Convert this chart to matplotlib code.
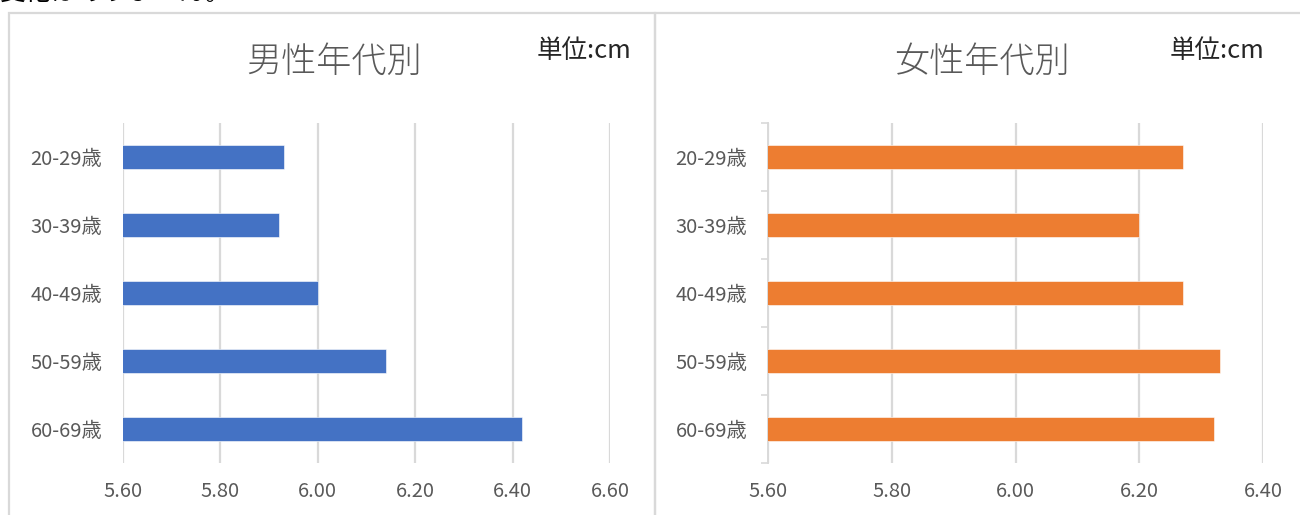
import matplotlib
matplotlib.use("Agg")
import matplotlib.pyplot as plt
from matplotlib.patches import Rectangle

plt.rcParams['font.family'] = ['Noto Sans CJK JP', 'DejaVu Sans']

ages = ['20-29歳', '30-39歳', '40-49歳', '50-59歳', '60-69歳']
male = [5.93, 5.92, 6.00, 6.14, 6.42]
female = [6.27, 6.20, 6.27, 6.33, 6.32]
male_ticks = [5.60, 5.80, 6.00, 6.20, 6.40, 6.60]
female_ticks = [5.60, 5.80, 6.00, 6.20, 6.40]

W, H = 1300, 515
fig = plt.figure(figsize=(13, 5.15), dpi=100)

grid_c = '#d9d9d9'
text_c = '#595959'

# panel borders (shared edge in the middle)
for x0, x1 in [(9, 655), (655, 1310)]:
    fig.add_artist(Rectangle((x0 / W, -0.1), (x1 - x0) / W, 1.1 - 13 / H,
                             transform=fig.transFigure, fill=False,
                             edgecolor=grid_c, linewidth=1.6, clip_on=False))

# sentence above the charts, cut off by the top edge
fig.text(0.0, 1 + 7 / H, '変化はありません。', fontsize=18.5, color='black',
         ha='left', va='center')


def panel(left, width, vals, ticks, color, title, title_x, unit_x, left_spine):
    ax = fig.add_axes([left / W, 1 - 463 / H, width / W, 340 / H])
    pos = list(range(len(ages)))
    ax.barh(pos, vals, height=0.35, color=color, edgecolor='white',
            linewidth=0.4, zorder=3)
    ax.set_ylim(len(ages) - 0.5, -0.5)
    ax.set_xlim(ticks[0], ticks[-1])
    ax.set_xticks(ticks)
    ax.set_xticklabels([f'{t:.2f}' for t in ticks])
    ax.xaxis.grid(True, color=grid_c, linewidth=1.6, zorder=0)
    for s in ['top', 'right', 'bottom']:
        ax.spines[s].set_visible(False)
    ax.tick_params(axis='x', length=0, pad=13, labelsize=14.5, labelcolor=text_c)
    ax.set_yticks(pos)
    ax.set_yticklabels(ages)
    if left_spine:
        ax.spines['left'].set_color(grid_c)
        ax.spines['left'].set_linewidth(1.4)
        ax.set_yticks([p - 0.5 for p in pos] + [len(ages) - 0.5], minor=True)
        ax.tick_params(axis='y', which='minor', length=5, width=1.2, color=grid_c)
        ax.tick_params(axis='y', which='major', length=0, pad=15,
                       labelsize=14.5, labelcolor=text_c)
    else:
        ax.spines['left'].set_visible(False)
        ax.tick_params(axis='y', length=0, pad=15, labelsize=14.5,
                       labelcolor=text_c)
    fig.text(title_x / W, 1 - 62 / H, title, fontsize=25.3, color=text_c,
             ha='center', va='center', fontweight='light')
    fig.text(unit_x / W, 1 - 51 / H, '単位:cm', fontsize=18.4, color='#262626',
             ha='left', va='center')
    return ax


panel(123, 487, male, male_ticks, '#4472C4', '男性年代別', 334, 537, False)
panel(768, 495, female, female_ticks, '#ED7D31', '女性年代別', 982, 1170, True)

fig.savefig('out.png', dpi=100)
